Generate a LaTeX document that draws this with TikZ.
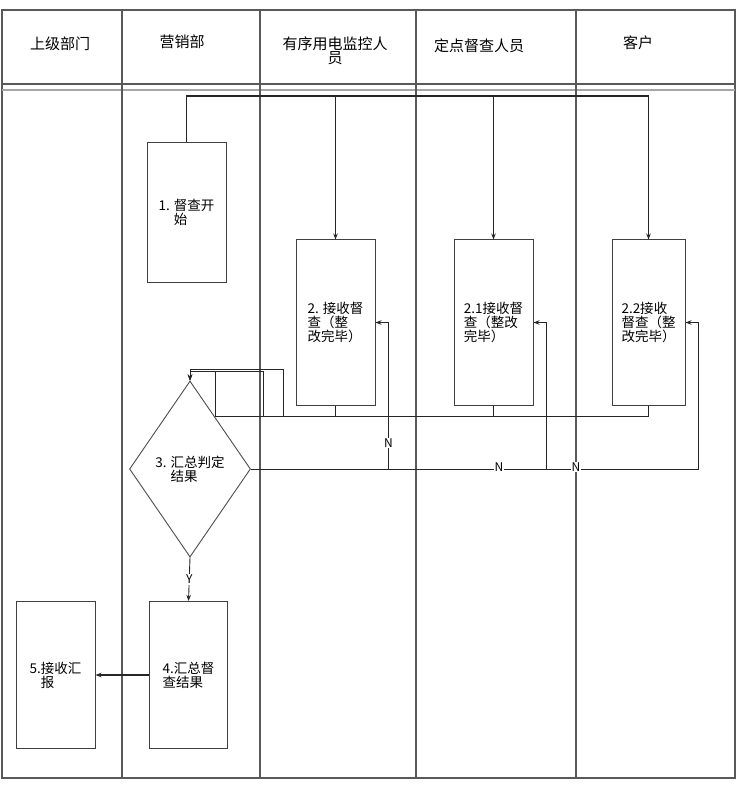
\documentclass[tikz,border=0pt]{standalone}
\usepackage{fontspec}
\setmainfont{Noto Sans CJK SC}
\usetikzlibrary{arrows.meta,shapes.geometric}

\tikzset{
  lane/.style={draw=black!65, line width=1.2pt},
  title/.style={align=center, font=\fontsize{15}{14}\selectfont, inner sep=0pt},
  stepbox/.style={draw=black!75, line width=1pt, minimum width=79pt, align=left,
    inner sep=0pt, font=\fontsize{13.5}{14}\selectfont},
  decide/.style={diamond, draw=black!70, line width=0.9pt, minimum width=121pt,
    minimum height=176pt, inner sep=0pt, align=left, font=\fontsize{13.5}{14}\selectfont},
  link/.style={draw=black!85, line width=0.9pt},
  arr/.style={link, -{Stealth[length=6pt,width=4.5pt]}},
  tag/.style={fill=white, inner sep=1pt, font=\fontsize{12}{12}\selectfont}
}

\begin{document}
\begin{tikzpicture}[x=1pt,y=-1pt]
  \useasboundingbox (0,0) rectangle (737,799);
  % Define the lanes
  \draw[lane] (2,10) rectangle (735,778);
  \draw[lane] (2,84) -- (735,84);
  \draw[lane,draw=black!35] (2,90) -- (735,90);
  \foreach \x in {122,260,416,576} \draw[lane] (\x,10) -- (\x,778);
  % Add titles to the lanes
  \foreach \x/\y/\t in {60/44/上级部门,182/42/营销部,335/51/{有序用电监控人\\员},479/46/定点督查人员,638/43/客户}
    \node[title] (h\x) at (\x,\y) {\t};

  % Create steps
  \node[stepbox, minimum height=139pt] (s1) at (186.5,212.5) {1. 督查开\\\phantom{1. }始};
  \node[stepbox, minimum height=165pt] (s2) at (335.5,322.5) {2. 接收督\\查（整\\改完毕）};
  \node[stepbox, minimum height=165pt] (s21) at (493.5,322.5) {2.1接收督\\查（整改\\完毕）};
  \node[stepbox, minimum height=165pt, minimum width=73pt] (s22) at (648.5,322.5) {2.2接收\\督查（整\\改完毕）};
  \node[decide] (d3) at (190,469) {3. 汇总判定\\\phantom{3. }结果};
  \node[stepbox, minimum height=147pt, minimum width=78pt] (s4) at (188.5,675) {4.汇总督\\查结果};
  \node[stepbox, minimum height=147pt] (s5) at (55.5,675) {5.接收汇\\\phantom{5.}报};

  % Start goes out to all three
  \coordinate (top) at (s22.north |- 0,96);
  \draw[link, line width=1.3pt] (s1.north) |- (top);
  \draw[arr] (top) -- (s22.north);
  \draw[arr] (s2.north |- top) -- (s2.north);
  \draw[arr] (s21.north |- top) -- (s21.north);

  % Results come back to the decision
  \coordinate (b2) at (283,369);
  \coordinate (b21) at (263,371);
  \coordinate (b22) at (215,371);
  \draw[arr] (s2.south) -- ++(0,11) -| (b2) -| (d3.north);
  \draw[arr] (s21.south) -- ++(0,11) -| (b21) -| (d3.north);
  \draw[arr] (s22.south) -- ++(0,11) -| (b22) -| (d3.north);

  % Not passed: back to the steps
  \draw[arr] (d3.east) -| ([xshift=13pt]s2.east) -- (s2.east);
  \draw[arr] (d3.east) -| ([xshift=13pt]s21.east) -- (s21.east);
  \draw[arr] (d3.east) -| ([xshift=13pt]s22.east) -- (s22.east);
  \node[tag] (n2) at (388.5,443) {N};
  \node[tag] (n21) at (499,467) {N};
  \node[tag] (n22) at (576,467) {N};

  % Passed: report
  \draw[arr] (d3.south) -- (s4.north) node[tag, midway] (y4) {Y};
  \draw[arr, line width=1.2pt] (s4.west) -- (s5.east);
\end{tikzpicture}
\end{document}
